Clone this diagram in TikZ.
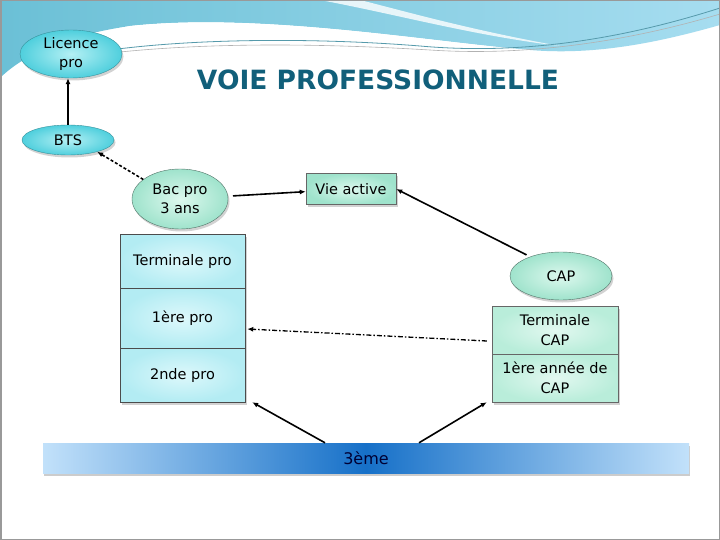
\documentclass[tikz,border=0pt]{standalone}
\usepackage{fontspec}
\setmainfont{DejaVu Sans}
\usetikzlibrary{shapes.geometric,shadows,arrows.meta,calc}
\definecolor{titlec}{HTML}{115F7A}
\definecolor{cyanA}{HTML}{B4F0F4}
\definecolor{cyanB}{HTML}{4FCFDD}
\definecolor{mintA}{HTML}{DDF8EE}
\definecolor{mintB}{HTML}{9FE3CC}
\definecolor{boxA}{HTML}{DDF8FB}
\definecolor{boxB}{HTML}{B3ECF3}
\definecolor{rboxA}{HTML}{E2F8F0}
\definecolor{rboxB}{HTML}{B9EDDA}
\definecolor{barL}{HTML}{C2E1FA}
\definecolor{barM}{HTML}{1670C8}
\definecolor{skyA}{HTML}{6BC0D6}
\definecolor{skyB}{HTML}{A6DDF0}
\tikzset{
  txt/.style={font=\fontsize{14.5}{19.5}\selectfont},
  shad/.style={drop shadow={opacity=0.35,shadow xshift=1.5pt,shadow yshift=-2.5pt}},
  cyanell/.style={ellipse,shad,draw=cyanB!70!black,thin,inner color=cyanA,outer color=cyanB,align=center,txt,inner sep=0pt},
  mintell/.style={ellipse,shad,draw=mintB!50!black,thin,inner color=mintA,outer color=mintB,align=center,txt,inner sep=0pt},
  lbox/.style={rectangle,shad,draw=black!70,thin,inner color=boxA,outer color=boxB,minimum width=125pt,align=center,txt},
  rbox/.style={rectangle,shad,draw=black!60,thin,inner color=rboxA,outer color=rboxB,minimum width=126pt,minimum height=48pt,align=center,txt,inner sep=1pt},
  arr/.style={-{Latex[length=6pt,width=5pt]},line width=1.6pt},
  dasharr/.style={arr,dash pattern=on 3pt off 2pt},
  dotdasharr/.style={arr,line width=1.3pt,dash pattern=on 5pt off 2pt on 1.5pt off 2pt}
}
\begin{document}
\begin{tikzpicture}[x=1pt,y=-1pt]
\useasboundingbox (0,0) rectangle (720,540);
\fill[white] (0,0) rectangle (720,540);
% top decoration
\shade[left color=skyA,right color=skyB] (0,0) -- (720,0) -- (720,25)
  .. controls (650,45) and (590,55) .. (530,50)
  .. controls (430,42) and (260,12) .. (130,26)
  .. controls (60,36) and (20,58) .. (0,78) -- cycle;
\fill[white] (0,78) .. controls (30,55) and (70,38) .. (130,26)
  .. controls (260,12) and (430,42) .. (530,50)
  .. controls (430,48) and (260,25) .. (140,36)
  .. controls (70,44) and (30,62) .. (0,84) -- cycle;
\fill[white,opacity=0.8] (320,0) .. controls (400,15) and (470,35) .. (560,46)
  .. controls (470,30) and (400,10) .. (360,0) -- cycle;
\draw[skyA!80!black,line width=0.8pt] (110,50) .. controls (200,38) and (320,38) .. (420,46)
  .. controls (520,55) and (620,40) .. (720,8);
\draw[gray!60,line width=0.6pt] (120,52) .. controls (220,42) and (330,44) .. (430,50)
  .. controls (520,56) and (620,44) .. (720,14);
% frame
\draw[gray!80,line width=1.5pt] (0.75,0.75) rectangle (719.25,539.25);
% title
\node[text=titlec,font=\fontsize{26.5}{30}\selectfont\bfseries] (title) at (378,80) {VOIE PROFESSIONNELLE};
% nodes
\node[cyanell,minimum width=102pt,minimum height=48pt] (lic) at (71,54) {Licence\\pro};
\node[cyanell,minimum width=92pt,minimum height=30pt] (bts) at (68,140) {BTS};
\node[mintell,minimum width=96pt,minimum height=60pt] (bac) at (180,199) {Bac pro\\3 ans};
\node[rectangle,shad,draw=black!60,thin,inner color=mintA,outer color=mintB,minimum width=90pt,minimum height=31pt,inner sep=1pt,txt] (vie) at (351,189) {Vie active};
\node[lbox,minimum height=54pt] (term) at (182.5,261) {Terminale pro};
\node[lbox,minimum height=60pt] (prem) at (182.5,318) {1ère pro};
\node[lbox,minimum height=54pt] (sec) at (182.5,375) {2nde pro};
\node[mintell,minimum width=102pt,minimum height=48pt] (cap) at (561,276) {CAP};
\node[rbox] (tcap) at (555,330) {Terminale\\CAP};
\node[rbox] (acap) at (555,378) {1ère année de\\CAP};
\node[rectangle,drop shadow={opacity=0.4,shadow xshift=1pt,shadow yshift=-3pt},left color=barL,right color=barL,middle color=barM,minimum width=646pt,minimum height=30pt,text=black!80!blue,font=\fontsize{16}{18}\selectfont] (bar) at (366,458) {3ème};
% connectors
\draw[arr] (bts.north) -- (bts.north |- lic.south);
\draw[dasharr] (bac.152) -- (bts.-22);
\draw[arr,shorten <=5pt] (bac) -- (vie);
\draw[arr,shorten <=4pt] (cap.148) -- (vie.east);
\draw[dotdasharr] ($(tcap.west)+(-5,11)$) -- ($(prem.east)+(2,11)$);
\draw[arr] ($(bar.north)+(-41,0)$) -- ($(sec.south east)+(7,0)$);
\draw[arr] ($(bar.north)+(53,0)$) -- ($(acap.south west)+(-5,0)$);
\end{tikzpicture}
\end{document}
